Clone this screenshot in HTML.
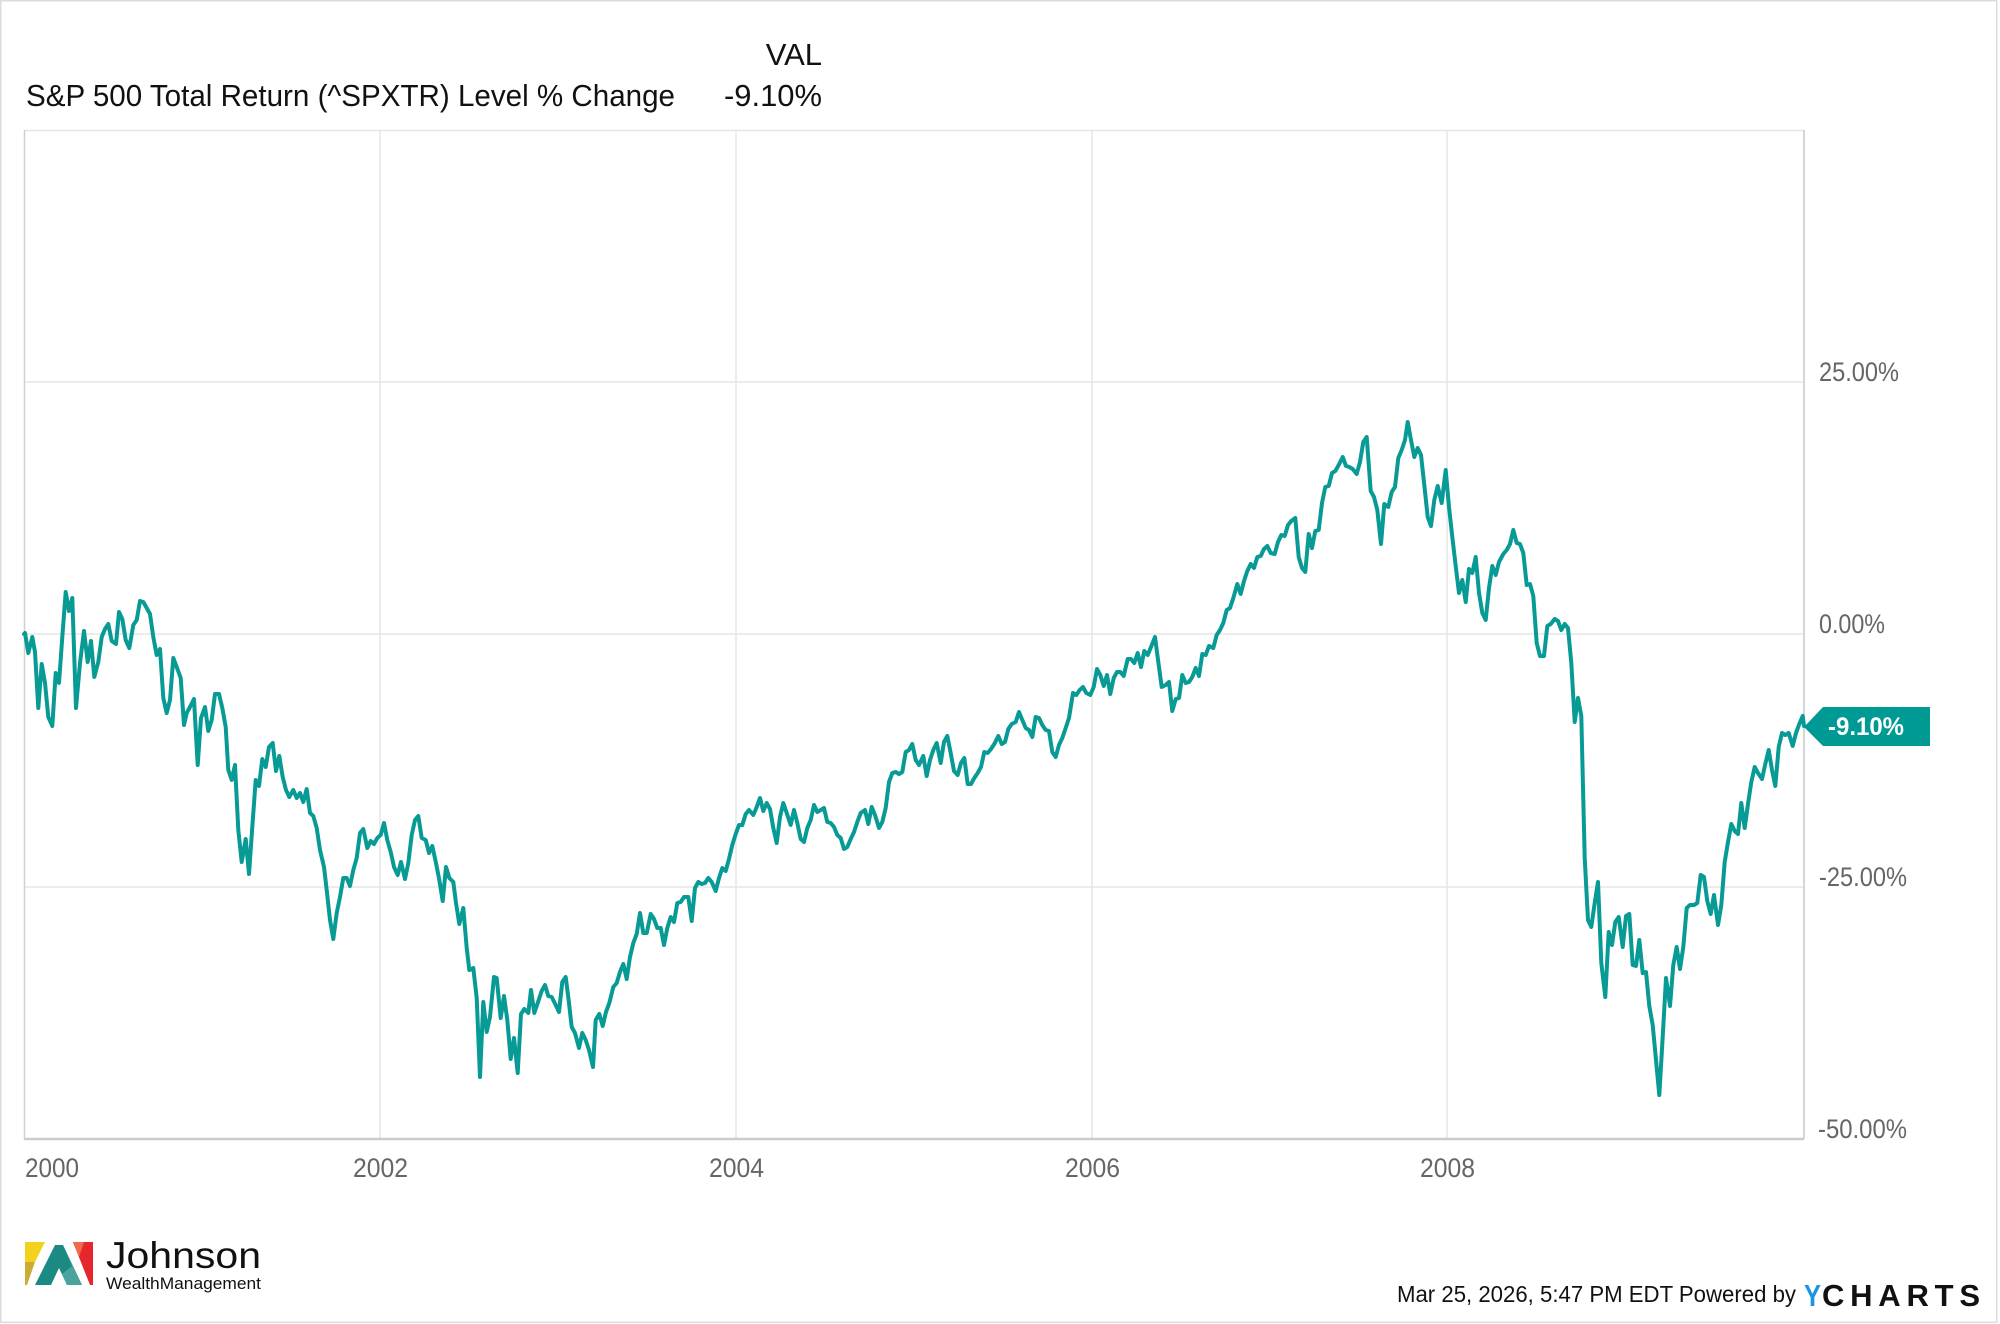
<!DOCTYPE html>
<html>
<head>
<meta charset="utf-8">
<style>
html,body{margin:0;padding:0;background:#fff;}
svg{display:block;}
text{font-family:"Liberation Sans",Arial,sans-serif;}
</style>
</head>
<body>
<svg width="2000" height="1324" viewBox="0 0 2000 1324" xmlns="http://www.w3.org/2000/svg">
<rect x="0" y="0" width="2000" height="1324" fill="#fff"/>
<rect x="0.75" y="0.75" width="1996" height="1321.5" fill="none" stroke="#dcdcdc" stroke-width="1.5"/>

<!-- Header -->
<text x="822" y="65" font-size="31" text-anchor="end" fill="#111">VAL</text>
<text x="26" y="106" font-size="31" fill="#111" textLength="649" lengthAdjust="spacingAndGlyphs">S&amp;P 500 Total Return (^SPXTR) Level % Change</text>
<text x="822" y="106" font-size="31" text-anchor="end" fill="#111" textLength="98" lengthAdjust="spacingAndGlyphs">-9.10%</text>

<!-- Plot frame & grid -->
<g stroke="#e6e6e6" stroke-width="1.5" fill="none">
  <line x1="24" y1="382" x2="1804" y2="382"/>
  <line x1="24" y1="634" x2="1804" y2="634"/>
  <line x1="24" y1="887" x2="1804" y2="887"/>
  <line x1="380" y1="130" x2="380" y2="1139"/>
  <line x1="736" y1="130" x2="736" y2="1139"/>
  <line x1="1092" y1="130" x2="1092" y2="1139"/>
  <line x1="1447" y1="130" x2="1447" y2="1139"/>
  <line x1="24" y1="130.5" x2="1804" y2="130.5"/>
</g>
<line x1="24.5" y1="130" x2="24.5" y2="1139" stroke="#d0d0d0" stroke-width="1.5"/>
<line x1="1804" y1="130" x2="1804" y2="1139" stroke="#c8c8c8" stroke-width="1.5"/>
<line x1="24" y1="1139" x2="1804" y2="1139" stroke="#cccccc" stroke-width="2.5"/>

<!-- Y labels -->
<g font-size="27" fill="#666">
  <text x="1819" y="381" textLength="80" lengthAdjust="spacingAndGlyphs">25.00%</text>
  <text x="1819" y="633" textLength="66" lengthAdjust="spacingAndGlyphs">0.00%</text>
  <text x="1819" y="886" textLength="88" lengthAdjust="spacingAndGlyphs">-25.00%</text>
  <text x="1818" y="1138" textLength="89" lengthAdjust="spacingAndGlyphs">-50.00%</text>
</g>

<!-- X labels -->
<g font-size="27" fill="#666">
  <text x="25" y="1177" textLength="54" lengthAdjust="spacingAndGlyphs">2000</text>
  <text x="353" y="1177" textLength="55" lengthAdjust="spacingAndGlyphs">2002</text>
  <text x="709" y="1177" textLength="55" lengthAdjust="spacingAndGlyphs">2004</text>
  <text x="1065" y="1177" textLength="55" lengthAdjust="spacingAndGlyphs">2006</text>
  <text x="1420" y="1177" textLength="55" lengthAdjust="spacingAndGlyphs">2008</text>
</g>

<!-- Series -->
<polyline fill="none" stroke="#089a95" stroke-width="4" stroke-linejoin="round" stroke-linecap="round" points="
24,634 25,633 28.3,653 32.3,637 35,652 38.3,708 41.7,664 45,683 48.3,717 52.3,726 55.7,673 59,683 62.3,637 65.7,592 69,611 72.3,598 76,708 80,663 84,631 87.7,662 91,641 94.3,677 98.3,662 101.7,637 105,629 108.3,624 111.7,641 116,644 119,612 122.3,619 125.7,640 129.3,648 133.3,625 136.7,620 140,601 143.3,602 146.7,608 150,614 153.3,637 156.7,655 160,649 163.3,698 166.7,713 170,700 173.3,658 176.7,667 180.7,678 184,725 186.7,713 190,707 194,699 197.7,765 201,718 205,707 208.3,731 211.7,720 215,694 219,694 222.3,708 225.7,727 228.3,770 231.7,780 235,765 238.3,830 241.7,862 245.7,839 249,874 252.3,827 255.7,780 259,786 262.3,759 265.7,767 269,747 272.7,743 276,771 279.3,756 282.7,777 286,790 289.3,797 293.3,790 296.7,798 300,793 303.3,802 306.7,789 310,813 313.3,816 316.7,828 320,850 324,867 326.7,890 330,920 333.3,939
336.7,913 340,897 343.3,878 346.7,878 350,886 353.3,870 356.7,858 360,833 363.3,829 367.3,848 370.7,841 374,844 377.3,838 380.7,835 384,823 387.3,840 390.7,852 394,867 397.7,875 401,862 405,879 408.3,863 411.7,835 415,820 418.3,816 421.7,838 425.7,840 429,853 432.3,846 436,863 439.3,880 442.7,901 446,867 449.3,878 453.3,882 456,903 459.3,924 463.3,908 466.7,948 469.3,970 473.3,968 476.7,998 480,1077 483.3,1002 486.7,1032 490,1017 494,977 496.7,978 500.7,1018 504,996 507.3,1020 510.7,1059 514,1038 517.7,1073 521,1014 524.3,1009 528.3,1013 531,990 534.3,1013 537.7,1003 541.7,991 545,985 548.3,996 551.7,997 555.7,1005 559,1012 562.3,982 565.7,977 569,1003 571.7,1027 575,1033 579,1048 582.3,1033 585.7,1040 589,1050 593,1067 595.7,1020 599.3,1014 602.7,1026 606,1012 609.3,1003 613.3,987 616.7,983 620,972 623.3,964 626.7,979 630,957
633.3,943 636.7,934 640,913 643.3,933 646.7,933 650.7,914 654,919 657.3,928 660.7,928 664,945 667.3,928 670.7,917 674,922 677.3,903 680.7,902 684,897 688.3,897 691.7,921 695,888 698.3,882 701.7,884 705,883 708.3,878 711.7,882 715.7,891 719,878 722.3,868 725.7,871 729,859 732.3,845 735.7,834 739,825 742.3,825 745.7,814 749,810 753.3,815 756.7,807 760,798 763.3,811 766.7,803 770,809 773.3,828 776.7,843 780,817 783.3,803 786.7,813 790.7,825 794,810 797.3,823 800.7,839 804,842 807.3,828 810.7,820 814,805 817.3,812 820.7,810 824,808 827.3,822 830.7,823 834,827 837.3,835 840.7,838 844,849 847.3,847 850.7,839 854,832 857.3,822 860.7,813 865,810 868.3,824 871.7,807 875,815 879,828 882.3,822 885.7,808 889,782 892.3,773 895.7,772 899,774 902.3,772 905.7,752 909,750 912.3,744 915.7,760 919,765
923.3,756 926.7,776 930,760 933.3,750 936.7,743 940.7,763 944,742 947.3,736 950.7,753 954,771 957.7,775 961,763 964.3,758 967.7,784 971,784 974.3,778 977.7,773 981,767 984.3,752 987.7,753 991,749 994.3,744 998.3,736 1001.7,744 1005,742 1008.3,729 1011.7,724 1015.7,722 1019,712 1022.3,720 1025.7,728 1029,730 1032.3,737 1035.7,717 1039,718 1042.3,725 1045.7,730 1049,731 1052.3,752 1055.7,757 1059,745 1062.3,738 1065.7,728 1069,718 1073,693 1076.3,695 1079.7,690 1083,687 1086.3,693 1090.3,695 1093.7,687 1097,669 1100.3,675 1103.7,686 1107,675 1110.3,694 1113.7,678 1117,672 1120.3,672 1123.7,676 1127.7,659 1131,659 1134.3,663 1137.7,653 1141,667 1144.3,651 1147.7,655 1151,647 1155,637 1158.3,662 1161.7,687 1165.7,685 1169,682 1172.3,711 1175.7,699 1179,698 1182.3,675 1185.7,683 1189,682 1192.3,677 1195.7,668 1199,676 1202.3,654 1205.7,655 1209,646
1213.3,648 1216.7,635 1220,630 1223.3,623 1226.7,610 1230,608 1233.3,598 1237.3,584 1240.7,594 1244,581 1247.3,571 1250.7,564 1254,568 1257.3,557 1260.7,556 1264,549 1267.3,546 1270.7,553 1274.7,554 1278,542 1281.3,535 1284.7,536 1288,525 1291.3,521 1295.3,518 1298.7,557 1302,568 1305.3,572 1308.7,534 1312,548 1315.3,531 1318.7,530 1322,503 1325.3,487 1328.7,486 1332,473 1335.3,471 1338.7,465 1342.7,457 1346,466 1349.3,467 1352.7,469 1356.7,474 1360,462 1363.3,442 1366.7,437 1370.7,491 1374,497 1377.3,510 1381,544 1384.3,504 1388.3,507 1391.7,492 1395,487 1398.3,458 1401.7,450 1405,440 1407.7,422 1411,440 1414.3,457 1417.7,448 1421,455 1424.3,485 1427.7,517 1431,526 1434.3,500 1437.7,486 1441.7,503 1445.7,470 1449,507 1452.3,537 1455.7,566 1459,593 1462.3,580 1465.7,602 1469,569 1472.3,573 1475.7,557 1479,593 1482.3,613 1485.7,620 1489,588 1492.3,566 1495.7,575 1499,562
1503.3,554 1506.7,550 1510,544 1513.3,530 1516.7,543 1520,544 1523.3,553 1526.7,585 1530,584 1533.3,596 1536.7,643 1540,656 1544,656 1547.3,626 1550.7,624 1554.7,619 1558,621 1561.3,630 1564.7,624 1568,628 1571.3,663 1574.7,722 1578,698 1581.3,716 1584.7,858 1588,920 1591.3,927 1594.7,903 1598,882 1601.3,963 1605.3,997 1608.7,932 1612,945 1615.3,922 1618.7,917 1622.7,947 1626,916 1629.3,914 1632.7,965 1636,966 1639.3,940 1642.7,973 1646,972 1649.3,1006 1652.7,1025 1656,1060 1659.3,1095 1662.7,1037 1666,978 1670,1006 1673.3,965 1676.7,947 1680,969 1683.3,947 1686.7,908 1690,905 1694,905 1697.3,903 1700.7,875 1704,877 1707.3,901 1710.7,914 1714,895 1718,925 1721.3,905 1724.7,862 1728,842 1731.3,824 1734.7,831 1738,834 1741.3,803 1744.7,828 1748,804 1751.3,782 1754.7,767 1758,773 1762,779 1765.3,764 1768.7,750 1772,770 1775.3,786 1778.7,747 1782,733 1785.3,735 1788.7,733 1792.7,746 1796,733 1799.3,724 1802.7,716 1804,726"/>

<!-- Value badge -->
<polygon points="1804,727 1823,707 1930,707 1930,746 1823,746" fill="#009a95"/>
<text x="1828" y="735" font-size="25" font-weight="bold" fill="#fff" textLength="76" lengthAdjust="spacingAndGlyphs">-9.10%</text>

<!-- Johnson logo -->
<polygon points="25,1242 45,1242 35,1262 25,1262" fill="#f2d21c"/>
<polygon points="25,1262 35,1262 27,1285 25,1285" fill="#c9ad36"/>
<polygon points="55,1245 63,1245 82,1285 67,1285 59,1268 51,1285 35,1285" fill="#1a8a83"/>
<polygon points="63,1245 82,1285 67,1285 62,1274 72,1266" fill="#4aa39c"/>
<polygon points="73,1242 93,1242 93,1285 90,1285" fill="#e5262d"/>
<polygon points="73,1242 84,1242 79,1257" fill="#ec6a4d"/>
<text x="106" y="1268" font-size="37" fill="#111" textLength="155" lengthAdjust="spacingAndGlyphs">Johnson</text>
<text x="106" y="1289" font-size="17" fill="#111" textLength="155" lengthAdjust="spacingAndGlyphs">WealthManagement</text>

<!-- Footer -->
<text x="1397" y="1302" font-size="23" fill="#111" textLength="399" lengthAdjust="spacingAndGlyphs">Mar 25, 2026, 5:47 PM EDT Powered by</text>
<text x="1804" y="1306" font-size="31" font-weight="bold" fill="#1b95e0" textLength="17" lengthAdjust="spacingAndGlyphs">Y</text>
<text x="1822" y="1306" font-size="31" font-weight="bold" fill="#111" textLength="158" lengthAdjust="spacing">CHARTS</text>
</svg>
</body>
</html>
